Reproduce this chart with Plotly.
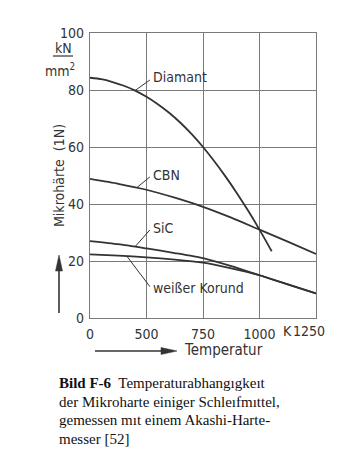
import plotly.graph_objects as go

# Temperature axis is broken: the left edge is labelled "0" but sits at the 250 position
x_tickvals = [250, 500, 750, 1000]
x_ticktext = ["0", "500", "750", "1000"]
y_tickvals = [0, 20, 40, 60, 80, 100]

diamant_x = [250, 300, 350, 400, 450, 500, 550, 600, 650, 700, 750, 800, 850, 900, 950, 1000, 1054]
diamant_y = [84.3, 83.8, 82.8, 81.5, 79.8, 77.6, 75.0, 72.0, 68.5, 64.5, 60.0, 55.0, 49.6, 43.8, 37.6, 31.0, 23.4]

cbn_x = [250, 375, 500, 625, 750, 875, 1000, 1125, 1250]
cbn_y = [48.8, 47.1, 45.0, 42.2, 39.0, 35.2, 31.0, 26.8, 22.5]

sic_x = [250, 375, 500, 625, 750, 875, 1000, 1125, 1250]
sic_y = [27.0, 25.9, 24.4, 22.8, 21.0, 18.2, 15.0, 11.8, 8.6]

korund_x = [250, 375, 500, 625, 750, 875, 1000, 1125, 1250]
korund_y = [22.3, 21.9, 21.3, 20.5, 19.4, 17.4, 15.0, 11.8, 8.6]

# labels: (text, leader start x, y on curve, leader end x, y, text y)
labels = [
    ("Diamant", 449, 79.8, 515, 83.5, 84.7),
    ("CBN", 458, 45.8, 515, 49.5, 50.2),
    ("SiC", 449, 25.0, 515, 30.9, 31.6),
    ("weißer Korund", 414, 21.6, 515, 11.0, 10.5),
]

caption_lines = [
    "<b>Bild F-6</b>  Temperaturabhangıgkeıt",
    "der Mikroharte einiger Schleıfmıttel,",
    "gemessen mıt einem Akashi-Harte-",
    "messer [52]",
]

SANS = "DejaVu Sans Condensed, DejaVu Sans, sans-serif"
INK = "#333333"
GRID = "#7a7a7a"
FS = 14

W, H = 350, 471
L, R, T, B = 90, 34, 33, 153
PW, PH = W - L - R, H - T - B


def px(xp):
    return (xp - L) / PW


def py(yp):
    return (H - B - yp) / PH


fig = go.Figure()
for xs, ys in [(diamant_x, diamant_y), (cbn_x, cbn_y), (sic_x, sic_y), (korund_x, korund_y)]:
    fig.add_trace(go.Scatter(x=xs, y=ys, mode="lines",
                             line=dict(color=INK, width=1.8, shape="spline", smoothing=0.6),
                             showlegend=False, hoverinfo="skip"))

shapes = []
annotations = []
for text, x0, y0, x1, y1, ty in labels:
    shapes.append(dict(type="line", xref="x", yref="y", x0=x0, y0=y0, x1=x1, y1=y1,
                       line=dict(color=INK, width=1)))
    annotations.append(dict(x=x1, y=ty, xref="x", yref="y", text=text, showarrow=False,
                            xanchor="left", yanchor="middle", xshift=1,
                            font=dict(family=SANS, size=FS, color=INK)))

# 1250 label and K unit
annotations.append(dict(x=px(309), y=py(331), xref="paper", yref="paper", text="1250", showarrow=False,
                        xanchor="center", yanchor="middle",
                        font=dict(family=SANS, size=FS, color=INK)))
annotations.append(dict(x=px(287), y=py(331), xref="paper", yref="paper", text="K", showarrow=False,
                        xanchor="center", yanchor="middle",
                        font=dict(family=SANS, size=FS, color=INK)))

# y axis title
annotations.append(dict(x=px(59), y=py(176), xref="paper", yref="paper", text="Mikrohärte  (1N)",
                        textangle=-90, showarrow=False, xanchor="center", yanchor="middle",
                        font=dict(family=SANS, size=FS, color=INK)))
# y arrow (shaft + head)
shapes.append(dict(type="line", xref="paper", yref="paper", x0=px(59), x1=px(59), y0=py(313), y1=py(268),
                   line=dict(color=INK, width=1.6)))
shapes.append(dict(type="path", xref="paper", yref="paper",
                   path=f"M {px(59)} {py(255)} L {px(55.5)} {py(271)} L {px(62.5)} {py(271)} Z",
                   fillcolor=INK, line=dict(color=INK, width=0.5)))
# x arrow
shapes.append(dict(type="line", xref="paper", yref="paper", x0=px(95), x1=px(163), y0=py(351), y1=py(351),
                   line=dict(color=INK, width=1.6)))
shapes.append(dict(type="path", xref="paper", yref="paper",
                   path=f"M {px(177)} {py(351)} L {px(161)} {py(347.5)} L {px(161)} {py(354.5)} Z",
                   fillcolor=INK, line=dict(color=INK, width=0.5)))
annotations.append(dict(x=px(182), y=py(350), xref="paper", yref="paper", text="Temperatur",
                        showarrow=False, xanchor="left", yanchor="middle",
                        font=dict(family=SANS, size=15, color=INK)))

# unit kN / mm2
annotations.append(dict(x=px(63), y=py(48), xref="paper", yref="paper", text="kN",
                        showarrow=False, xanchor="center", yanchor="middle",
                        font=dict(family=SANS, size=FS, color=INK)))
shapes.append(dict(type="line", xref="paper", yref="paper", x0=px(53), x1=px(73), y0=py(56), y1=py(56),
                   line=dict(color=INK, width=1.2)))
annotations.append(dict(x=px(60), y=py(70), xref="paper", yref="paper", text="mm<sup>2</sup>",
                        showarrow=False, xanchor="center", yanchor="middle",
                        font=dict(family=SANS, size=FS, color=INK)))

# caption
cap_y = [383, 402, 420, 439]
for line, yy in zip(caption_lines, cap_y):
    annotations.append(dict(x=px(57), y=py(yy), xref="paper", yref="paper", text=line,
                            showarrow=False, xanchor="left", yanchor="middle",
                            font=dict(family="Liberation Serif, Times New Roman, serif", size=15,
                                      color="#111111")))

fig.update_layout(
    width=W, height=H,
    margin=dict(l=L, r=R, t=T, b=B),
    paper_bgcolor="white", plot_bgcolor="white",
    shapes=shapes, annotations=annotations,
    xaxis=dict(range=[250, 1250], tickvals=x_tickvals, ticktext=x_ticktext,
               showgrid=True, gridcolor=GRID, gridwidth=1.2,
               showline=True, linecolor=GRID, linewidth=1.2, mirror=True,
               zeroline=False, ticks="", ticklabelstandoff=3,
               tickfont=dict(family=SANS, size=FS, color=INK)),
    yaxis=dict(range=[0, 100], tickvals=y_tickvals,
               showgrid=True, gridcolor=GRID, gridwidth=1.2,
               showline=True, linecolor=GRID, linewidth=1.2, mirror=True,
               zeroline=False, ticks="", ticklabelstandoff=2,
               tickfont=dict(family=SANS, size=FS, color=INK)),
)

fig.write_html("out.html")
